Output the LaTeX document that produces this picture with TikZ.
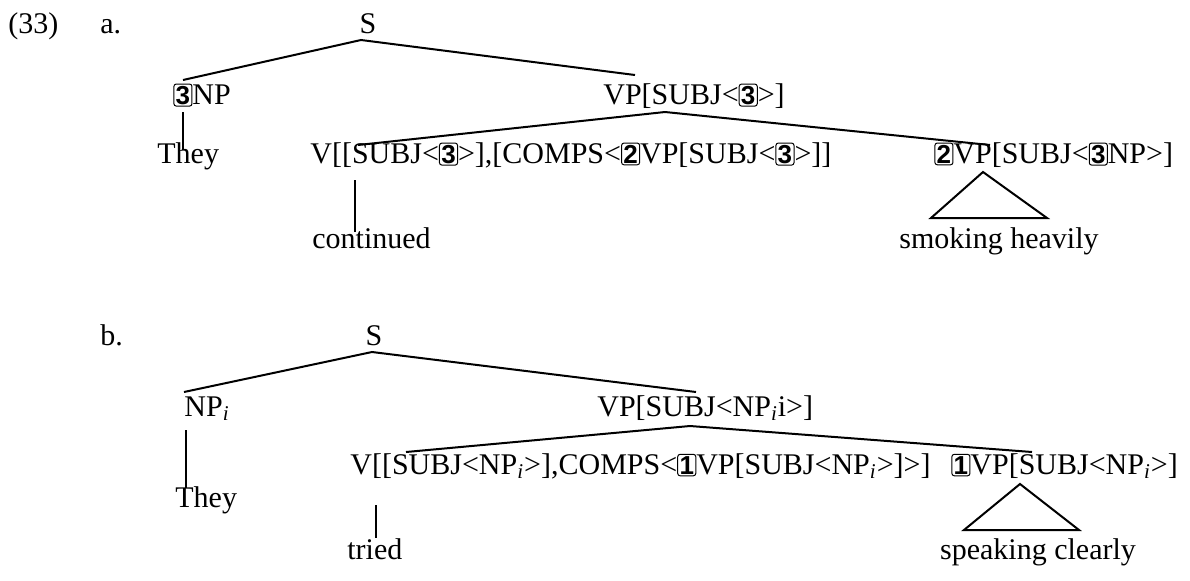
\documentclass[tikz,border=0pt]{standalone}
\usepackage{fontspec}
\setmainfont{Liberation Serif}
\newfontfamily\boxfont{Liberation Sans}
\usetikzlibrary{calc}
\newcommand{\bx}[1]{\tikz[baseline=(bxn.base)]\node[draw,rounded corners=1.2pt,inner sep=0.9pt,line width=0.5pt,font=\boxfont\bfseries\fontsize{13}{13}\selectfont](bxn){#1};}
\newcommand{\NPi}{NP\textsubscript{\textit{i}}}
\begin{document}
\begin{tikzpicture}[x=0.5pt,y=-0.5pt,
  lab/.style={anchor=base west,inner sep=0pt,font=\fontsize{15}{18}\selectfont},
  mid/.style={anchor=base,inner sep=0pt,font=\fontsize{15}{18}\selectfont},
  edge/.style={line width=1pt}]
\path[use as bounding box] (0,0) rectangle (1190,580);

% ---------- (33) a. ----------
\node[lab] (n33) at (8,33) {(33)};
\node[lab] (la) at (100,33) {a.};
\node[mid] (Sa) at (368,33) {S};
\node[lab] (NPa) at (173,104) {\bx{3}NP};
\node[lab] (VPa) at (603,104) {VP[SUBJ<\bx{3}>]};
\node[lab] (Theya) at (157,163) {They};
\node[lab] (Va) at (310,163) {V[[SUBJ<\bx{3}>],[COMPS<\bx{2}VP[SUBJ<\bx{3}>]]};
\node[lab] (VPa2) at (934,163) {\bx{2}VP[SUBJ<\bx{3}NP>]};
\node[lab] (conta) at (312,248) {continued};
\node[mid] (smoke) at (999,248) {smoking heavily};

\draw[edge] ($(NPa.base west)+(10,-24)$) -- ($(Sa.base)+(-7,7)$) -- ($(VPa.base west)+(32,-29)$);
\draw[edge] ($(NPa.base west)+(10,8)$) -- ($(Theya.base west)+(26,-13)$);
\draw[edge] ($(Va.base west)+(48,-18)$) -- ($(VPa.base west)+(62,8)$) -- ($(VPa2.base west)+(56,-18)$);
\draw[edge] ($(Va.base west)+(45,17)$) -- ($(conta.base west)+(43,-16)$);
\draw[edge] ($(VPa2.base west)+(49,9)$) -- ($(smoke.base)+(-68,-30)$) -- ($(smoke.base)+(48,-30)$) -- cycle;

% ---------- b. ----------
\node[lab] (lb) at (100,345) {b.};
\node[mid] (Sb) at (374,345) {S};
\node[lab] (NPb) at (184,416) {\NPi};
\node[lab] (VPb) at (597,416) {VP[SUBJ<\NPi i>]};
\node[lab] (Vb) at (350,474) {V[[SUBJ<\NPi>],COMPS<\bx{1}VP[SUBJ<\NPi>]>]};
\node[lab] (VPb2) at (951,474) {\bx{1}VP[SUBJ<\NPi>]};
\node[lab] (Theyb) at (175,507) {They};
\node[lab] (tried) at (347,559) {tried};
\node[mid] (speak) at (1038,559) {speaking clearly};

\draw[edge] ($(NPb.base west)+(0,-24)$) -- ($(Sb.base)+(-2,7)$) -- ($(VPb.base west)+(99,-24)$);
\draw[edge] ($(NPb.base west)+(2,14)$) -- ($(Theyb.base west)+(11,-19)$);
\draw[edge] ($(Vb.base west)+(56,-22)$) -- ($(VPb.base west)+(93,10)$) -- ($(VPb2.base west)+(81,-22)$);
\draw[edge] ($(Vb.base west)+(26,31)$) -- ($(tried.base west)+(29,-21)$);
\draw[edge] ($(VPb2.base west)+(69,10)$) -- ($(speak.base)+(-74,-29)$) -- ($(speak.base)+(41,-29)$) -- cycle;
\end{tikzpicture}
\end{document}
